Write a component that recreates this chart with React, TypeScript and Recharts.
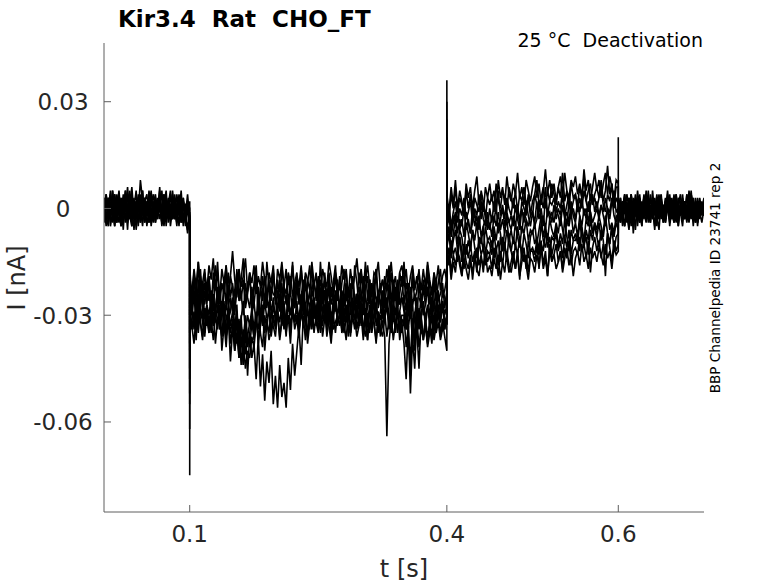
import React from "react";
import { LineChart, Line, XAxis, YAxis } from "recharts";

// ---- data (currents in pA, converted to nA when building the table) ----
const SEGMENT_START_S = [0, 0.1, 0.4, 0.6];
const SAMPLE_STEP_S = 0.0025;
const X_TICKS = [0.1, 0.4, 0.6];
const Y_TICKS = [0.03, 0, -0.03, -0.06];

// t = 0 .. 0.1 s (holding)
const PRE_PA = [
  [2, -3, 1, 4, -2, 0, -4, 3, 1, -1, 5, -2, 0, 3, -3, 1, -1, 8, 2, -2, 0, -4, 2, 1, -3, 3, 0, -2, 4, -1, -3, 1, 2, -2, 0, 3, -4, 1, -1, 2, 0],
  [-1, 3, -4, 0, 2, -3, 4, -2, -5, 1, 3, -2, 0, 4, -3, -1, 2, -4, 1, 3, -2, 0, 5, -3, 1, -1, 2, -5, 0, 3, -2, 4, -1, -3, 1, 0, -4, 2, -1, 1, -2],
  [-4, 0, 2, -2, 5, -1, -3, 1, 3, -4, 0, 6, -2, -5, 1, -1, 4, -2, -3, 2, -1, 3, -4, 0, 2, -2, 5, -3, 1, -1, 3, -5, 0, 2, -2, 4, -1, -3, 1, 0, -3],
  [3, -2, -5, 2, 0, 4, -1, -4, 2, -2, 5, -3, 1, -1, 3, -6, 0, 3, -2, 0, 2, -4, 1, 4, -1, -3, 2, 0, -5, 3, -1, 1, -3, 4, -2, 0, 2, -4, 1, -6, -2],
  [0, 4, -1, -3, 3, -5, 2, 0, -2, 4, -4, 1, 3, -3, 0, 2, -5, 4, -1, -3, 1, -2, 3, 0, -4, 2, -1, 5, -3, 1, 0, -2, 4, -3, 1, -1, 3, -5, 0, 2, -4],
  [-2, 1, 3, -5, -1, 2, 0, 5, -3, -1, 2, -6, 4, 1, -2, 0, 3, -1, 5, -4, -1, 2, -3, 1, 4, -2, 0, -4, 3, -1, 1, -3, 2, 0, -5, 3, -1, 2, -2, -7, -1],
  [3, -4, 1, -2, 5, -3, 0, 2, -5, 3, -1, 4, -3, 1, -6, 2, 0, -2, 5, -4, 1, 3, -5, 0, 2, -3, 4, -1, -4, 2, 0, -3, 5, -2, 1, -5, 3, 0, -2, 4, -3],
  [-3, 2, -1, 5, -4, 0, 3, -2, 1, -6, 4, -1, -3, 2, 0, 5, -4, 1, -2, 3, -5, 0, 4, -3, 1, -1, 6, -4, 2, -2, 1, 5, -3, 0, -4, 2, -1, 3, -5, 1, -4],
  [1, -5, 3, 0, -2, 4, -4, 2, -1, 3, -3, 0, 5, -5, 2, -2, 1, -4, 3, 0, -2, 5, -1, -4, 3, 1, -3, 0, 4, -5, 2, -1, -3, 3, 0, -2, 5, -4, 1, -1, 2],
  [-2, 4, -3, 1, -1, -5, 2, 4, -3, 0, 2, -4, 1, 6, -2, -3, 3, 0, -5, 2, 4, -3, -1, 2, -4, 0, 3, -2, 1, 5, -4, 0, 2, -3, 4, -1, -2, 3, -4, 0, -6],
];

// capacitive transient at t = 0.1 s
const SPIKE_ON_PA = [-40, -75, -55, -48, -35, -30, -62, -45, -52, -38];

// t = 0.1 .. 0.4 s (activating step)
const STEP_PA = [
  [-19, -24, -17, -22, -15, -21, -26, -18, -23, -16,
   -20, -14, -23, -18, -25, -17, -21, -16, -24, -19,
   -12, -20, -25, -17, -22, -19, -14, -23, -18, -21,
   -16, -24, -19, -22, -15, -20, -26, -18, -21, -17,
   -26, -17, -20, -15, -22, -24, -18, -21, -16, -23,
   -19, -22, -16, -25, -18, -20, -23, -15, -21, -24,
   -19, -25, -17, -20, -22, -15, -19, -24, -18, -21,
   -23, -16, -20, -18, -25, -17, -22, -19, -14, -21,
   -17, -23, -20, -16, -22, -25, -18, -19, -15, -23,
   -20, -24, -17, -21, -15, -22, -19, -26, -18, -16,
   -21, -17, -24, -19, -16, -22, -20, -18, -23, -17,
   -22, -15, -20, -24, -18, -21, -16, -23, -19, -17, -21],
  [-22, -28, -20, -25, -31, -19, -24, -27, -21, -26,
   -23, -29, -20, -26, -22, -30, -24, -18, -27, -25,
   -29, -23, -18, -26, -24, -30, -21, -25, -28, -22,
   -27, -21, -25, -31, -23, -19, -26, -28, -22, -24,
   -25, -31, -20, -27, -23, -26, -29, -19, -24, -28,
   -22, -27, -24, -30, -21, -25, -28, -23, -20, -26,
   -21, -26, -30, -23, -25, -20, -27, -24, -29, -22,
   -28, -23, -26, -21, -29, -24, -19, -27, -25, -22,
   -26, -19, -25, -28, -23, -30, -21, -26, -24, -27,
   -23, -28, -21, -25, -30, -22, -26, -20, -27, -24,
   -20, -25, -29, -22, -27, -24, -31, -21, -26, -23,
   -27, -22, -25, -29, -21, -26, -24, -30, -23, -25, -28],
  [-25, -30, -23, -28, -33, -26, -22, -31, -27, -35,
   -29, -24, -32, -27, -34, -30, -26, -36, -28, -33,
   -29, -35, -38, -33, -44, -37, -45, -40, -42, -36,
   -39, -32, -34, -28, -33, -26, -31, -29, -35, -27,
   -31, -27, -24, -33, -29, -36, -25, -30, -28, -32,
   -26, -33, -29, -24, -31, -35, -28, -32, -25, -30,
   -26, -34, -29, -23, -31, -27, -35, -30, -25, -33,
   -29, -24, -32, -27, -36, -28, -31, -26, -34, -30,
   -28, -24, -32, -37, -27, -30, -25, -33, -29, -36,
   -27, -32, -25, -30, -34, -28, -23, -31, -29, -35,
   -31, -26, -34, -28, -38, -30, -25, -33, -29, -27,
   -33, -28, -30, -25, -34, -29, -27, -32, -26, -31, -32],
  [-24, -29, -33, -26, -31, -22, -28, -35, -27, -30,
   -25, -32, -28, -23, -30, -27, -34, -26, -31, -29,
   -25, -36, -27, -41, -30, -44, -33, -47, -35, -42,
   -38, -48, -36, -50, -41, -54, -43, -49, -40, -55,
   -47, -56, -44, -53, -49, -56, -42, -51, -38, -47,
   -40, -33, -44, -30, -37, -27, -34, -25, -31, -28,
   -32, -24, -29, -27, -34, -26, -31, -28, -23, -30,
   -27, -33, -25, -30, -28, -35, -29, -24, -31, -26,
   -33, -27, -25, -31, -28, -35, -30, -26, -32, -29,
   -24, -30, -27, -33, -26, -31, -28, -35, -29, -25,
   -27, -34, -30, -25, -33, -29, -36, -28, -31, -26,
   -31, -27, -33, -28, -35, -26, -30, -32, -27, -34, -30],
  [-30, -26, -34, -29, -24, -32, -37, -28, -31, -35,
   -27, -33, -29, -25, -32, -36, -28, -30, -34, -26,
   -27, -33, -29, -38, -31, -26, -35, -30, -33, -28,
   -34, -29, -37, -31, -27, -40, -32, -35, -29, -33,
   -36, -29, -32, -27, -34, -30, -26, -33, -29, -31,
   -28, -34, -30, -25, -32, -36, -29, -33, -27, -31,
   -28, -35, -30, -27, -33, -29, -36, -31, -26, -32,
   -30, -34, -28, -32, -26, -35, -29, -31, -27, -33,
   -29, -34, -30, -37, -28, -33, -31, -27, -35, -30,
   -32, -36, -64, -38, -31, -27, -35, -29, -33, -30,
   -30, -39, -33, -47, -32, -36, -29, -34, -31, -37,
   -33, -38, -31, -36, -30, -34, -29, -35, -32, -36, -40],
  [-27, -33, -38, -30, -35, -28, -32, -36, -29, -34,
   -31, -37, -30, -34, -28, -36, -32, -39, -30, -35,
   -31, -40, -35, -42, -33, -37, -30, -36, -39, -32,
   -36, -30, -38, -33, -29, -35, -31, -37, -34, -30,
   -34, -29, -36, -31, -27, -33, -30, -35, -28, -32,
   -30, -35, -29, -33, -27, -36, -31, -34, -28, -32,
   -35, -30, -33, -28, -36, -31, -29, -34, -32, -30,
   -33, -28, -35, -31, -29, -36, -30, -34, -27, -32,
   -27, -33, -36, -30, -34, -29, -32, -37, -31, -35,
   -33, -29, -36, -31, -35, -30, -34, -28, -37, -32,
   -38, -48, -33, -52, -36, -45, -31, -39, -34, -36,
   -31, -36, -33, -38, -30, -35, -32, -37, -34, -31, -32],
  [-16, -27, -19, -25, -15, -28, -21, -17, -26, -20,
   -29, -18, -23, -15, -27, -21, -24, -16, -28, -19,
   -22, -30, -17, -25, -20, -14, -26, -23, -18, -29,
   -21, -16, -27, -24, -19, -28, -15, -22, -26, -18,
   -25, -20, -29, -16, -23, -27, -19, -24, -15, -28,
   -20, -26, -17, -23, -29, -21, -16, -25, -22, -18,
   -27, -15, -24, -20, -28, -18, -25, -21, -16, -26,
   -19, -29, -22, -17, -25, -23, -28, -16, -21, -27,
   -18, -24, -15, -26, -20, -29, -22, -17, -25, -21,
   -28, -19, -23, -16, -27, -20, -24, -29, -18, -22,
   -15, -26, -21, -28, -17, -23, -19, -25, -27, -20,
   -24, -16, -22, -29, -18, -26, -21, -17, -25, -23, -19],
  [-21, -30, -24, -33, -20, -28, -31, -23, -27, -19,
   -32, -25, -29, -22, -34, -26, -30, -36, -28, -38,
   -33, -40, -35, -31, -39, -34, -41, -36, -32, -30,
   -26, -33, -22, -29, -31, -24, -28, -20, -30, -25,
   -32, -23, -27, -21, -29, -33, -24, -30, -26, -22,
   -28, -31, -25, -20, -32, -27, -23, -30, -26, -33,
   -24, -29, -21, -31, -27, -22, -33, -25, -28, -20,
   -30, -26, -32, -23, -28, -21, -31, -27, -24, -33,
   -25, -22, -30, -28, -20, -32, -26, -29, -23, -27,
   -31, -24, -28, -21, -33, -26, -30, -22, -27, -25,
   -29, -34, -23, -31, -26, -40, -28, -32, -24, -30,
   -27, -22, -31, -25, -29, -33, -23, -28, -26, -30, -27],
  [-27, -34, -29, -37, -25, -32, -36, -28, -33, -30,
   -35, -29, -38, -31, -27, -40, -33, -36, -30, -43,
   -34, -38, -31, -42, -36, -44, -33, -39, -35, -30,
   -37, -32, -28, -35, -39, -30, -34, -27, -36, -31,
   -33, -29, -37, -32, -26, -35, -30, -38, -28, -34,
   -31, -36, -27, -33, -29, -38, -32, -26, -35, -30,
   -34, -28, -36, -31, -25, -33, -38, -30, -35, -29,
   -27, -35, -32, -37, -29, -34, -26, -31, -36, -33,
   -30, -37, -28, -33, -35, -27, -32, -38, -29, -34,
   -36, -31, -27, -34, -30, -37, -32, -28, -35, -31,
   -33, -29, -36, -42, -31, -38, -34, -45, -30, -37,
   -32, -39, -35, -30, -37, -33, -28, -36, -31, -34, -30],
  [-20, -26, -18, -29, -23, -17, -27, -21, -25, -19,
   -28, -22, -16, -26, -24, -30, -20, -27, -18, -25,
   -21, -29, -23, -17, -26, -20, -28, -24, -19, -27,
   -23, -18, -30, -22, -26, -19, -25, -28, -21, -16,
   -27, -24, -20, -29, -22, -17, -26, -23, -30, -21,
   -18, -25, -28, -22, -19, -27, -24, -16, -26, -29,
   -23, -20, -27, -18, -25, -30, -22, -26, -19, -24,
   -28, -21, -17, -26, -23, -29, -20, -25, -27, -18,
   -24, -30, -22, -19, -27, -21, -26, -17, -28, -23,
   -20, -25, -29, -23, -18, -26, -22, -28, -24, -19,
   -27, -21, -24, -30, -19, -26, -23, -17, -28, -22,
   -25, -18, -27, -22, -29, -20, -26, -24, -21, -28, -23],
];

// capacitive transient at t = 0.4 s
const SPIKE_OFF_PA = [12, 36, 20, 8, 15, 5, 25, 18, 10, 30];

// t = 0.4 .. 0.6 s (deactivation tails)
const TAIL_PA = [
  [2, -3, 4, 0, 6, -1, 3, 1, -2, 5,
   0, 4, -2, 3, 1, -1, 5, 2, -3, 3,
   1, 4, -1, 7, 2, 0, 5, 3, -1, 6,
   3, 0, 5, -1, 4, 2, 6, 1, 3, -2,
   2, 4, 8, 1, 3, 6, 0, 5, 2, 7,
   4, 1, 6, 3, 10, 2, 5, 0, 7, 3,
   4, 1, 6, 3, 9, 2, 5, 7, 1, 4,
   6, 3, 8, 2, 5, 12, 4, 7, 1, 6, 6],
  [-3, 1, -5, -1, 2, -4, 0, -2, 3, -3,
   -1, 2, -4, 0, -2, 4, -3, 1, -1, -5,
   0, -4, 2, -1, 5, -2, 1, -3, 3, 0,
   -2, 3, -1, 1, -4, 2, 0, -2, 4, -1,
   -2, 4, 1, -1, 3, 0, 6, -2, 2, 1,
   3, -1, 2, 0, 5, -2, 1, 4, -1, 2,
   4, -1, 3, 0, 5, 2, -1, 4, 1, 3,
   0, 3, 6, 1, -1, 4, 2, 7, 0, 3, 1],
  [-6, -2, -8, -4, -1, -7, -3, -5, 0, -6,
   -3, -7, -4, -1, -6, -2, -8, -5, -3, -6,
   -4, -8, -2, -5, -1, -6, -3, -7, -2, -4,
   -6, -2, -5, 0, -4, -7, -1, -3, -5, -2,
   -1, -5, -3, 2, -4, -2, -6, 0, -3, -1,
   -4, 0, -2, -5, 1, -3, -1, -4, 2, -2,
   -4, 1, -2, -5, 0, -3, 2, -1, -4, -2,
   0, -3, 1, -2, -5, 0, -1, 3, -2, -4, -1],
  [-9, -5, -12, -7, -3, -10, -6, -8, -13, -4,
   -7, -11, -6, -9, -4, -10, -8, -12, -5, -9,
   -8, -11, -5, -9, -4, -7, -12, -6, -3, -9,
   -6, -10, -4, -8, -11, -5, -7, -3, -9, -6,
   -7, -4, -10, -6, -2, -8, -5, -9, -3, -6,
   -8, -4, -7, -2, -6, -9, -3, -5, -1, -7,
   -4, -8, -2, -6, -9, -3, -5, -1, -7, -4,
   -6, -2, -5, -8, -3, 0, -6, -4, -7, -2, -3],
  [-12, -16, -9, -13, -11, -15, -8, -12, -17, -10,
   -14, -10, -15, -12, -18, -9, -13, -11, -16, -12,
   -13, -9, -14, -11, -16, -8, -12, -10, -15, -7,
   -12, -15, -10, -13, -8, -14, -11, -17, -9, -12,
   -11, -13, -9, -17, -10, -12, -6, -11, -8, -13,
   -10, -7, -12, -9, -14, -8, -11, -6, -13, -9,
   -9, -7, -12, -5, -10, -8, -13, -6, -9, -4,
   -8, -11, -6, -9, -19, -7, -10, -5, -12, -8, -7],
  [-15, -11, -18, -13, -16, -12, -14, -19, -10, -15,
   -17, -13, -20, -14, -11, -16, -13, -18, -12, -15,
   -13, -17, -11, -14, -19, -12, -16, -10, -14, -18,
   -15, -12, -17, -13, -20, -11, -15, -13, -18, -12,
   -12, -15, -11, -13, -9, -16, -12, -19, -10, -14,
   -13, -10, -15, -12, -17, -11, -14, -9, -16, -12,
   -11, -13, -8, -12, -10, -14, -9, -18, -11, -8,
   -12, -9, -14, -10, -13, -7, -11, -15, -9, -12, -10],
  [4, -1, 6, 1, 8, 0, 5, 2, -2, 7,
   3, 6, 0, 5, 9, 1, 4, -1, 6, 3,
   7, 2, 5, 0, 8, 3, 6, 1, 9, 4,
   2, 7, 4, 10, 3, 6, 1, 8, 5, 2,
   6, 9, 3, 7, 1, 5, 11, 4, 8, 3,
   7, 2, 6, 9, 4, 10, 5, 3, 8, 6,
   9, 4, 7, 3, 11, 5, 8, 2, 6, 10,
   5, 8, 3, 7, 10, 4, 9, 6, 2, 8, 7],
  [-5, 0, -7, -2, -4, 1, -6, -3, -8, -1,
   -4, -7, 0, -5, -2, -6, 2, -3, -5, -1,
   -6, -2, -4, 1, -7, -3, 0, -5, -1, -4,
   -2, -5, 1, -3, -6, 0, -4, 2, -2, -5,
   -1, -4, 2, -3, 0, -5, 3, -2, -1, -4,
   1, -3, 0, -2, 4, -1, -5, 2, -2, 0,
   -3, 2, -1, 3, -2, 0, -4, 1, 4, -1,
   2, -2, 1, -1, 3, 0, -3, 2, 5, -1, 0],
  [-11, -7, -14, -9, -6, -12, -8, -15, -10, -13,
   -9, -12, -6, -11, -14, -8, -10, -5, -13, -9,
   -10, -13, -7, -12, -9, -15, -8, -11, -6, -10,
   -12, -8, -11, -5, -9, -13, -7, -10, -14, -8,
   -6, -10, -8, -12, -4, -9, -11, -7, -13, -8,
   -9, -5, -11, -7, -10, -3, -8, -12, -6, -9,
   -7, -10, -4, -8, -11, -6, -9, -3, -7, -5,
   -8, -4, -9, -6, -2, -7, -10, -5, -8, -4, -6],
  [-17, -13, -20, -15, -18, -12, -16, -19, -14, -17,
   -20, -15, -18, -13, -17, -19, -14, -16, -12, -18,
   -16, -19, -14, -17, -13, -20, -15, -18, -12, -16,
   -18, -14, -17, -12, -19, -15, -13, -16, -20, -14,
   -15, -18, -13, -16, -11, -17, -14, -19, -12, -15,
   -13, -17, -15, -12, -18, -14, -11, -16, -13, -19,
   -14, -12, -16, -10, -15, -13, -17, -11, -14, -12,
   -15, -11, -13, -16, -10, -14, -12, -17, -11, -13, -12],
];

// transient at t = 0.6 s
const SPIKE_END_PA = [4, 3, 20, 0, -2, -3, 8, 0, -3, -5];

// t = 0.6 .. 0.7 s (back to holding)
const END_PA = [
  [1, -3, 2, -1, 4, 0, -4, 2, -2, 3, -1, 1, -3, 4, 0, -2, 2, -1, 3, -3, 1, -2, 3, 0, -4, 2, -1, 4, -2, 0, 3, -3, 1, -1, 5, -2, 0, 2, -3, 1, 0],
  [-2, 2, -5, 0, -3, 3, -1, -4, 1, -2, 4, -3, 0, 2, -4, 1, -1, 3, -2, 0, 2, -4, 1, -1, 3, -3, 0, 4, -2, 1, -3, 2, -1, -4, 1, 3, -2, 0, -1, 2, -1],
  [0, -4, 1, 3, -2, -6, 2, -1, 4, -3, 0, -5, 3, -1, 1, -4, 5, -2, 0, -3, 3, -1, -4, 2, 0, -2, 4, -3, 1, -1, -5, 2, 0, 3, -2, 1, -4, 2, -1, 0, 3],
  [-3, 1, -1, -5, 2, -2, 3, -7, 0, 1, -3, 2, -1, -4, 3, -2, 0, -6, 2, -1, -2, 1, -4, 0, 3, -3, -1, 2, -5, 1, 0, -2, 4, -3, 1, -1, -4, 2, 0, -2, 1],
  [2, -2, 0, 4, -4, 1, -3, 0, -2, 5, -1, -4, 2, 0, -3, 4, -2, 1, -5, 3, 0, -3, 2, -1, 4, -2, 0, -4, 3, 1, -2, 2, -1, -3, 4, 0, -2, 3, -1, -4, 0],
  [-1, 3, -3, 1, -1, -4, 4, -2, 2, -5, 3, -1, -2, 5, -1, 0, -3, 2, -1, 4, -2, 1, -3, 3, 0, -1, -4, 2, 1, -2, 4, -3, 0, -1, 2, -5, 3, -2, 1, -1, 2],
  [2, -3, 0, 4, -2, 1, -5, 3, -1, 2, -4, 0, 3, -2, 5, -3, 1, -1, 4, -2, 0, -4, 2, 1, -3, 3, -1, 0, -5, 2, 1, -2, 4, -1, -3, 2, 0, -4, 3, -1, 1],
  [-2, 1, -4, 2, 0, -3, 4, -1, -2, 3, 1, -5, 2, -1, 0, 3, -3, 1, -2, -6, 2, 0, -3, 4, -1, 1, -2, 3, -4, 0, -1, 2, -3, 5, 0, -2, 1, -4, 2, -1, -2],
  [0, 3, -2, -5, 1, -1, 4, -3, 2, -2, -4, 1, 0, 3, -2, -4, 2, 0, -3, 1, 4, -2, -1, 3, -5, 0, 2, -3, 1, 4, -2, 0, -4, 1, 3, -1, -3, 2, -2, 0, 1],
  [-1, -4, 2, 0, -3, 3, -2, 1, -6, 2, 0, -1, 4, -3, 1, -2, 3, -5, 0, 2, -3, 1, -1, 5, -2, 0, -4, 3, -1, 1, 2, -3, 0, -2, 4, -1, 2, -5, 1, 0, -2],
];

const SWEEP_KEYS = PRE_PA.map((_, k) => "s" + k);

type Row = { [key: string]: number };

function buildRows(): Row[] {
  const rows: Row[] = [];
  const push = (t: number, vals: number[]) => {
    const r: Row = { t: +t.toFixed(5) };
    vals.forEach((v, k) => {
      r[SWEEP_KEYS[k]] = v / 1000;
    });
    rows.push(r);
  };
  const addSegment = (start: number, seg: number[][]) => {
    seg[0].forEach((_, i) => push(start + i * SAMPLE_STEP_S, seg.map((s) => s[i])));
  };
  addSegment(SEGMENT_START_S[0], PRE_PA);
  push(SEGMENT_START_S[1], SPIKE_ON_PA);
  addSegment(SEGMENT_START_S[1], STEP_PA);
  push(SEGMENT_START_S[2], SPIKE_OFF_PA);
  addSegment(SEGMENT_START_S[2], TAIL_PA);
  push(SEGMENT_START_S[3], SPIKE_END_PA);
  addSegment(SEGMENT_START_S[3], END_PA);
  return rows;
}

const ROWS = buildRows();

const FONT = "'DejaVu Sans', sans-serif";
const AXIS_COLOR = "#5e5e5e";
const TICK_TEXT = "#262626";

const XTick = (props: any) => {
  const { x, y, payload } = props;
  return (
    <g>
      <line x1={x} x2={x} y1={y} y2={y - 7} stroke={AXIS_COLOR} strokeWidth={1} />
      <text x={x} y={y + 30} textAnchor="middle" fontFamily={FONT} fontSize={23} fill={TICK_TEXT}>
        {String(payload.value)}
      </text>
    </g>
  );
};

const YTick = (props: any) => {
  const { x, y, payload } = props;
  return (
    <g>
      <line x1={x} x2={x + 7} y1={y} y2={y} stroke={AXIS_COLOR} strokeWidth={1} />
      <text x={x - 41} y={y + 8.5} textAnchor="middle" fontFamily={FONT} fontSize={23} fill={TICK_TEXT}>
        {String(payload.value)}
      </text>
    </g>
  );
};

export default function App() {
  return (
    <div style={{ position: "absolute", left: 0, top: 0, width: 778, height: 583, background: "#fff" }}>
      <LineChart
        width={778}
        height={583}
        data={ROWS}
        margin={{ top: 43, right: 74, bottom: 0, left: 0 }}
      >
        <XAxis
          dataKey="t"
          type="number"
          domain={[0, 0.7]}
          ticks={X_TICKS}
          allowDataOverflow
          height={71}
          tickSize={0}
          tickMargin={0}
          tickLine={false}
          axisLine={{ stroke: AXIS_COLOR, strokeWidth: 1 }}
          tick={(p: any) => <XTick {...p} />}
          interval={0}
        />
        <YAxis
          type="number"
          domain={[-0.0853, 0.0465]}
          ticks={Y_TICKS}
          allowDataOverflow
          width={104}
          tickSize={0}
          tickMargin={0}
          tickLine={false}
          axisLine={{ stroke: AXIS_COLOR, strokeWidth: 1 }}
          tick={(p: any) => <YTick {...p} />}
          interval={0}
        />
        {SWEEP_KEYS.map((k) => (
          <Line
            key={k}
            dataKey={k}
            type="linear"
            stroke="#000"
            strokeWidth={1.6}
            strokeLinejoin="miter"
            dot={false}
            activeDot={false}
            isAnimationActive={false}
          />
        ))}
      </LineChart>
      <svg
        width={778}
        height={583}
        style={{ position: "absolute", left: 0, top: 0, pointerEvents: "none" }}
      >
        <text x={118} y={27} fontFamily={FONT} fontWeight="bold" fontSize={23} fill="#000" style={{ whiteSpace: "pre" }}>
          {"Kir3.4  Rat  CHO_FT"}
        </text>
        <text x={703} y={47} textAnchor="end" fontFamily={FONT} fontSize={19} fill="#000" style={{ whiteSpace: "pre" }}>
          {"25 °C  Deactivation"}
        </text>
        <text
          x={720}
          y={278}
          textAnchor="middle"
          fontFamily={FONT}
          fontSize={13.6}
          fill="#000"
          transform="rotate(-90 720 278)"
        >
          BBP Channelpedia ID 23741 rep 2
        </text>
        <text x={404} y={577} textAnchor="middle" fontFamily={FONT} fontSize={24} fill={TICK_TEXT}>
          t [s]
        </text>
        <text
          x={25}
          y={278}
          textAnchor="middle"
          fontFamily={FONT}
          fontSize={24}
          fill={TICK_TEXT}
          transform="rotate(-90 25 278)"
        >
          I [nA]
        </text>
      </svg>
    </div>
  );
}
